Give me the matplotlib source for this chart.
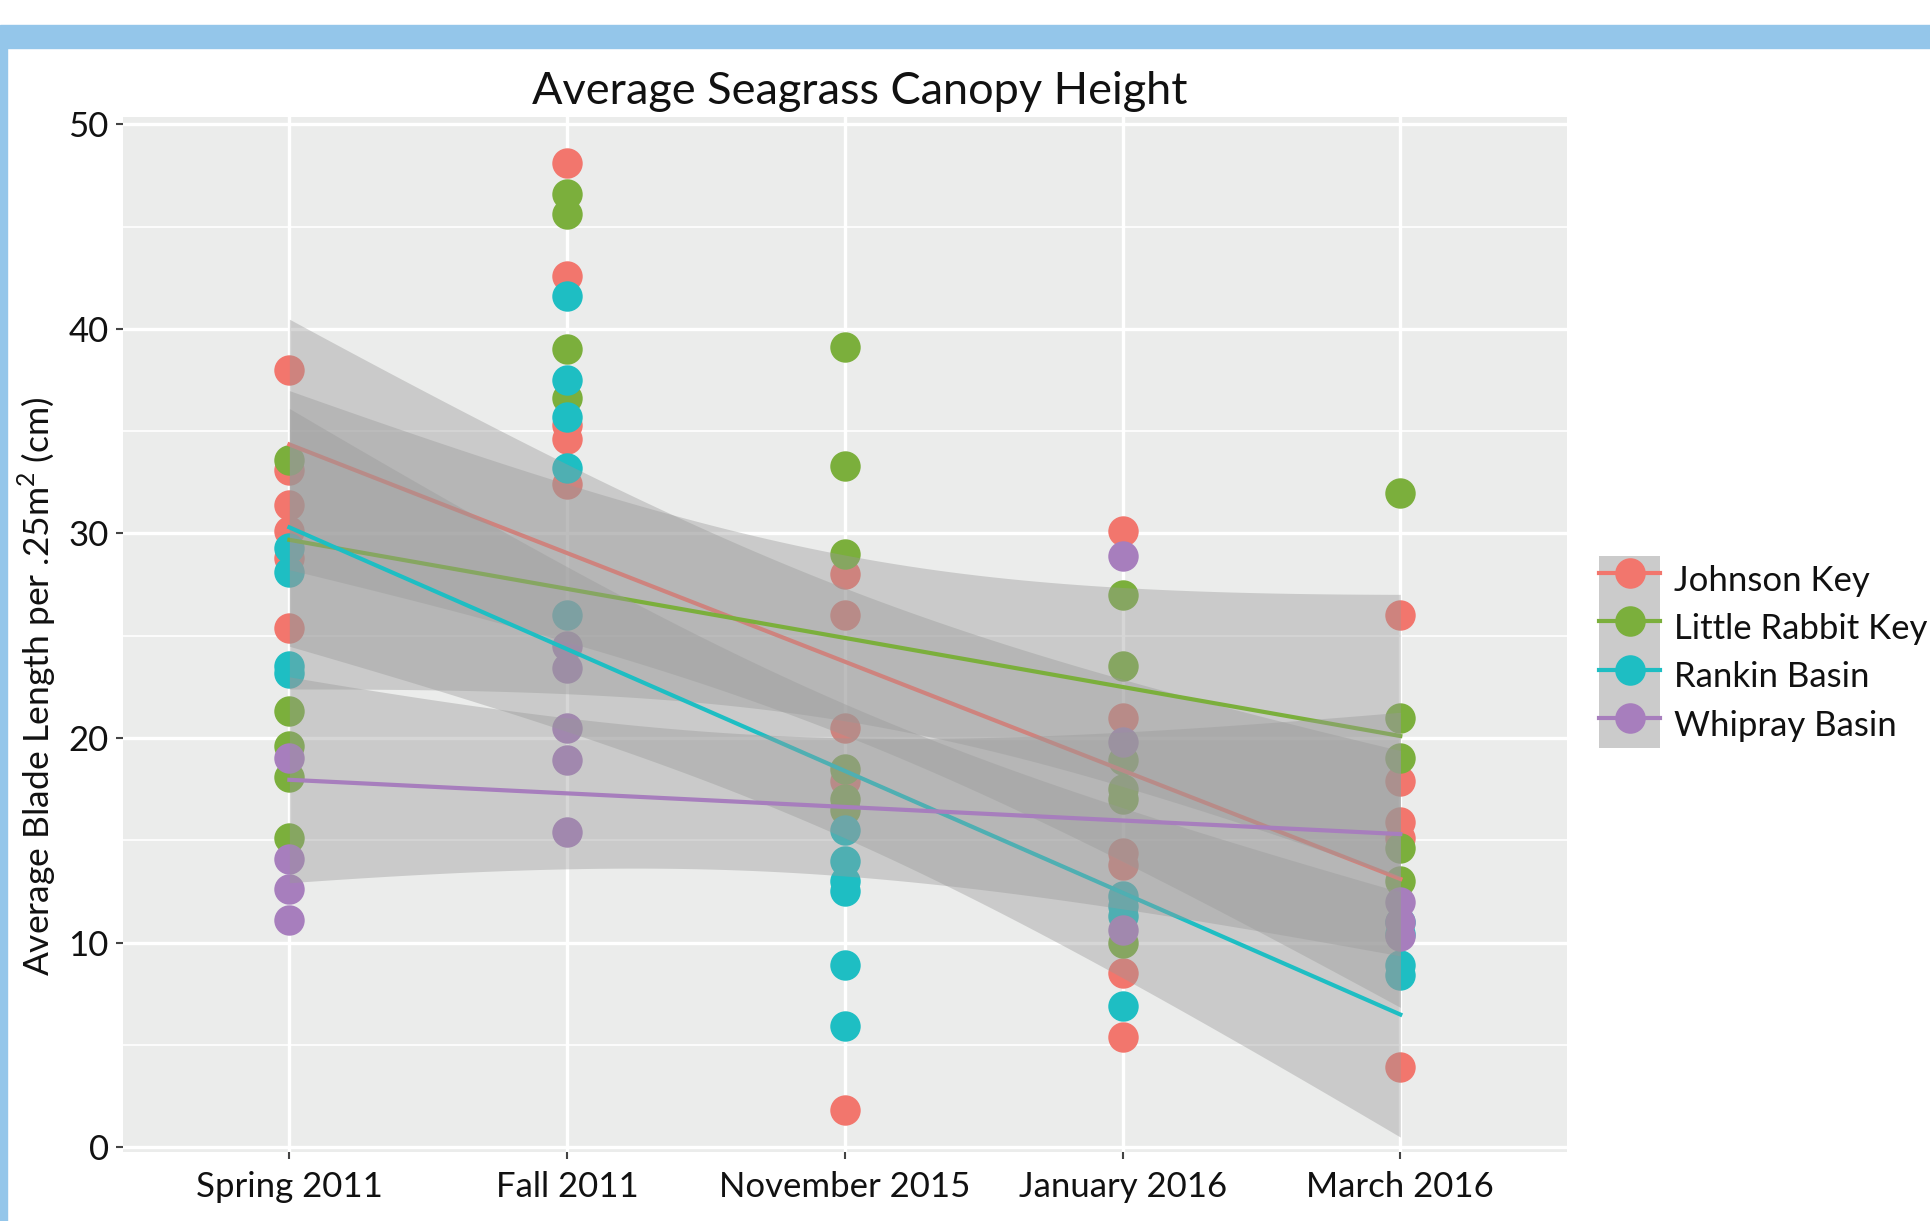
import matplotlib
matplotlib.use("Agg")
import matplotlib.pyplot as plt
from matplotlib.patches import Rectangle
from matplotlib.lines import Line2D
from matplotlib.legend_handler import HandlerTuple
import numpy as np

plt.rcParams['font.family'] = ['Lato', 'DejaVu Sans']
plt.rcParams['mathtext.fontset'] = 'custom'
plt.rcParams['mathtext.rm'] = 'Lato'

# data (one list per season)
seasons = ['Spring 2011', 'Fall 2011', 'November 2015', 'January 2016', 'March 2016']
sites = ['Johnson Key', 'Little Rabbit Key', 'Rankin Basin', 'Whipray Basin']
colors = ['#f2766d', '#7baf3c', '#1ebec3', '#a77ebd']

johnson_key = [[38.0, 33.1, 31.4, 30.1, 28.8, 25.4],
               [48.1, 42.6, 35.3, 34.6, 32.4],
               [28.0, 26.0, 20.5, 17.9, 1.8],
               [30.1, 21.0, 14.4, 13.8, 8.5, 5.4],
               [26.0, 17.9, 15.9, 15.1, 3.9]]
little_rabbit_key = [[33.6, 21.3, 19.6, 18.1, 15.1],
                     [46.6, 45.6, 39.0, 36.6],
                     [39.1, 33.3, 29.0, 18.5, 17.0, 16.5],
                     [27.0, 23.5, 18.9, 17.5, 17.0, 10.0],
                     [32.0, 21.0, 19.0, 14.6, 13.0]]
rankin_basin = [[29.3, 28.1, 23.5, 23.2],
                [41.6, 37.5, 35.7, 33.2, 26.0],
                [15.5, 14.0, 13.0, 12.5, 8.9, 5.9],
                [12.3, 11.8, 11.3, 6.9],
                [11.0, 10.4, 8.9, 8.4]]
whipray_basin = [[19.0, 14.1, 12.6, 11.1],
                 [24.5, 23.4, 20.5, 18.9, 15.4],
                 [],
                 [28.9, 19.8, 10.6],
                 [12.0, 11.0, 10.3]]
site_data = [johnson_key, little_rabbit_key, rankin_basin, whipray_basin]


def t975(df):
    # approximate 97.5% quantile of Student t
    z = 1.959964
    return z + (z**3 + z) / (4 * df) + (5 * z**5 + 16 * z**3 + 3 * z) / (96 * df**2)


fig = plt.figure(figsize=(19.3, 12.21), dpi=100)
ax = fig.add_axes([0.0636, 0.0565, 0.7483, 0.8477])
ax.set_facecolor('#ebeceb')
for sp in ax.spines.values():
    sp.set_visible(False)

# points first, smooth layers on top (like ggplot)
for vals, c in zip(site_data, colors):
    xs = np.concatenate([np.full(len(v), i + 1) for i, v in enumerate(vals)])
    ys = np.concatenate([np.array(v, dtype=float) for v in vals])
    ax.scatter(xs, ys, s=480, color=c, linewidths=0, zorder=2)

grid = np.linspace(1, 5, 80)
for vals, c in zip(site_data, colors):
    xs = np.concatenate([np.full(len(v), i + 1) for i, v in enumerate(vals)])
    ys = np.concatenate([np.array(v, dtype=float) for v in vals])
    n = len(xs)
    b1, b0 = np.polyfit(xs, ys, 1)
    res = ys - (b0 + b1 * xs)
    s = np.sqrt(np.sum(res**2) / (n - 2))
    sxx = np.sum((xs - xs.mean())**2)
    fit = b0 + b1 * grid
    se = s * np.sqrt(1 / n + (grid - xs.mean())**2 / sxx)
    hw = t975(n - 2) * se
    ax.fill_between(grid, fit - hw, fit + hw, color='#999999', alpha=0.4, lw=0, zorder=3)
    ax.plot(grid, fit, color=c, lw=3, zorder=3)

ax.set_xlim(0.4, 5.6)
ax.set_ylim(-0.24, 50.36)
ax.set_xticks(range(1, 6))
ax.set_xticklabels(seasons)
ax.set_yticks(range(0, 51, 10))
ax.set_yticks(range(5, 50, 10), minor=True)
ax.grid(which='major', color='white', lw=2.4, zorder=0)
ax.grid(which='minor', axis='y', color='white', lw=1.2, zorder=0)
ax.set_axisbelow(True)
ax.tick_params(which='major', length=5, width=1.5, color='#444444',
               labelsize=25, labelcolor='#111111', pad=5)
ax.tick_params(axis='x', which='major', pad=9)
ax.tick_params(which='minor', length=0)

ax.set_ylabel('Average Blade Length per .25m$^{2}$ (cm)', fontsize=25.5, color='#111111')
ax.yaxis.set_label_coords(-0.045, 0.45)

fig.text(860 / 1930, 1 - 92 / 1221, 'Average Seagrass Canopy Height',
         ha='center', va='center', fontsize=32.5, color='#111111')

handles = [(Rectangle((0, 0), 1, 1, fc='#cbcbcb', ec='none'),
            Line2D([], [], color=c, lw=3, marker='o', ms=22, mec='none'))
           for c in colors]
fig.legend(handles, sites, handler_map={tuple: HandlerTuple(ndivide=1, pad=0)},
           loc='center left', bbox_to_anchor=(0.8285, 0.466), frameon=False,
           fontsize=25, handlelength=1.76, handleheight=1.76, labelspacing=0,
           handletextpad=0.4, borderpad=0, borderaxespad=0, numpoints=1,
           labelcolor='#111111')

# slide frame around the chart
fig.patches.append(Rectangle((0, 1 - 48 / 1221), 1, 23 / 1221,
                             transform=fig.transFigure, color='#94c6ea', zorder=0))
fig.patches.append(Rectangle((0, 0), 7 / 1930, 1 - 48 / 1221,
                             transform=fig.transFigure, color='#94c6ea', zorder=0))

fig.savefig('out.png', dpi=100)
